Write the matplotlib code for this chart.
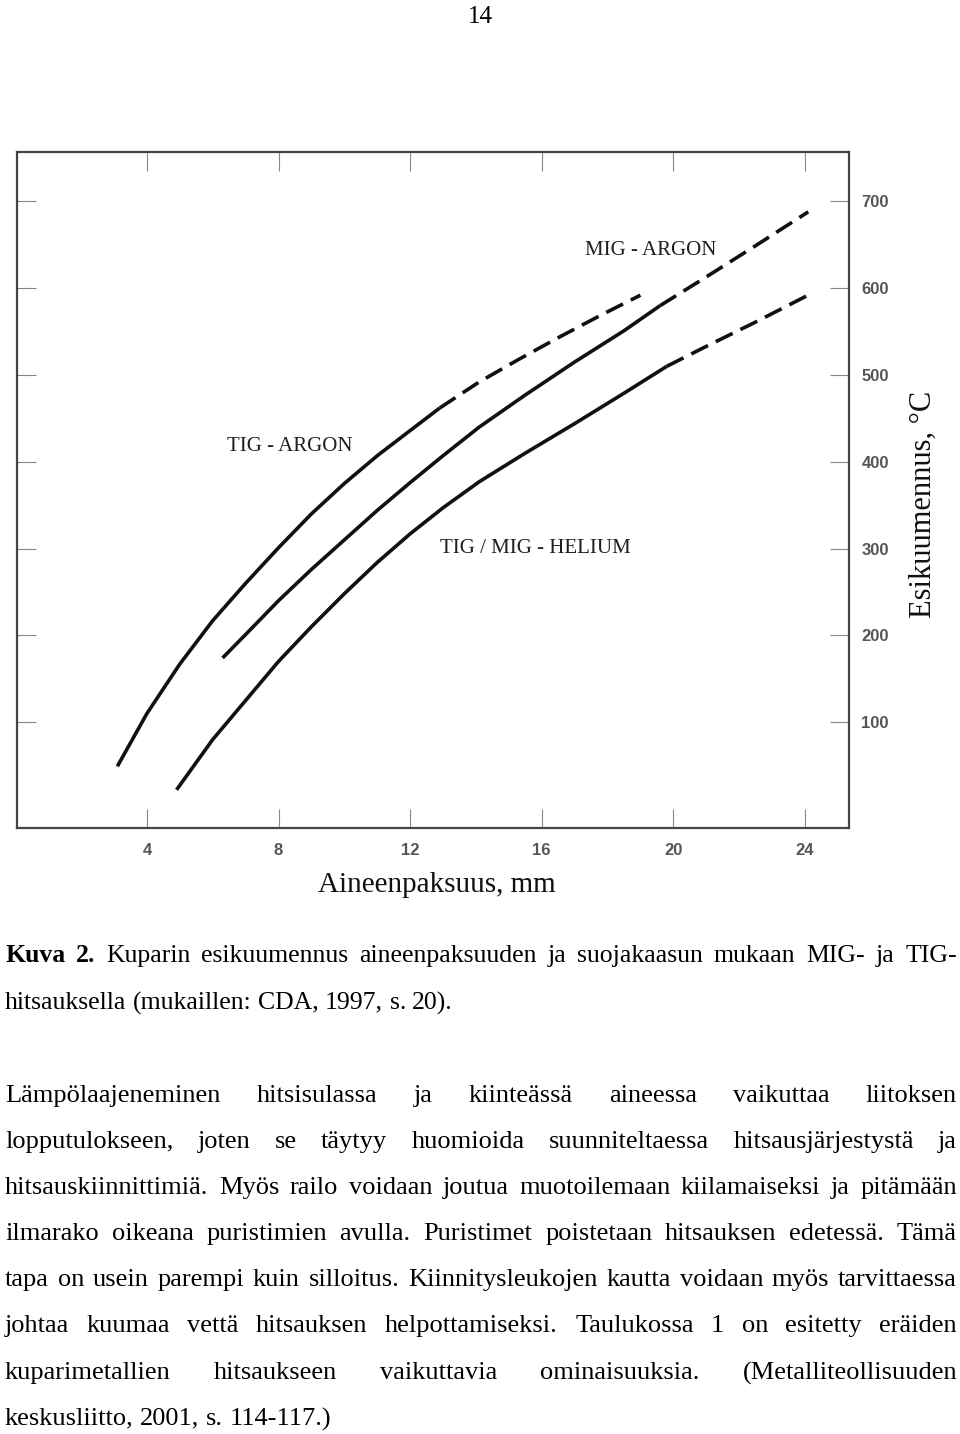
import math

import numpy as np
import matplotlib
matplotlib.use('Agg')
import matplotlib.pyplot as plt

# curves: thickness (mm) vs. preheat temperature (°C)
tig_ar_x = [3.1, 4.0, 5.0, 6.0, 7.0, 8.0, 9.0, 10.0, 11.0, 12.0, 12.9, 14.1, 15.3, 16.5, 17.8, 19.0]
tig_ar_y = [49, 110, 167, 217, 260, 301, 340, 375, 407, 436, 462, 492, 518, 543, 569, 592]
tig_ar_dash = 12.9

mig_ar_x = [6.3, 7.0, 8.0, 9.0, 10.0, 11.0, 12.0, 13.0, 14.1, 15.5, 17.0, 18.5, 19.6, 21.0, 22.5, 24.1]
mig_ar_y = [174, 201, 240, 276, 310, 344, 376, 407, 440, 477, 515, 551, 580, 613, 649, 688]
mig_ar_dash = 19.6

he_x = [4.9, 6.0, 7.0, 8.0, 9.0, 10.0, 11.0, 12.0, 13.0, 14.1, 15.5, 17.0, 18.5, 19.8, 21.0, 22.5, 24.2]
he_y = [22, 80, 125, 170, 210, 248, 284, 317, 347, 377, 410, 444, 479, 510, 533, 561, 594]
he_dash = 19.8

x_ticks = [4, 8, 12, 16, 20, 24]
y_ticks = [100, 200, 300, 400, 500, 600, 700]

caption_bold = "Kuva 2."
caption = [
    "Kuparin esikuumennus aineenpaksuuden ja suojakaasun mukaan MIG- ja TIG-",
    "hitsauksella (mukaillen: CDA, 1997, s. 20).",
]
body = [
    "Lämpölaajeneminen hitsisulassa ja kiinteässä aineessa vaikuttaa liitoksen",
    "lopputulokseen, joten se täytyy huomioida suunniteltaessa hitsausjärjestystä ja",
    "hitsauskiinnittimiä. Myös railo voidaan joutua muotoilemaan kiilamaiseksi ja pitämään",
    "ilmarako oikeana puristimien avulla. Puristimet poistetaan hitsauksen edetessä. Tämä",
    "tapa on usein parempi kuin silloitus. Kiinnitysleukojen kautta voidaan myös tarvittaessa",
    "johtaa kuumaa vettä hitsauksen helpottamiseksi. Taulukossa 1 on esitetty eräiden",
    "kuparimetallien hitsaukseen vaikuttavia ominaisuuksia. (Metalliteollisuuden",
    "keskusliitto, 2001, s. 114-117.)",
]

W, H = 960, 1434
fig = plt.figure(figsize=(W / 100, H / 100), dpi=100)
fig.patch.set_facecolor('white')
ax = fig.add_axes([17 / W, 1 - 828 / H, 832 / W, 676 / H])


def draw_curve(xs, ys, dash_from):
    xs = np.array(xs)
    ys = np.array(ys)
    s = xs <= dash_from
    d = xs >= dash_from
    ax.plot(xs[s], ys[s], color='#111111', lw=2.6, solid_capstyle='butt')
    ax.plot(xs[d], ys[d], color='#111111', lw=2.6, linestyle=(0, (5.2, 2.4)))


draw_curve(tig_ar_x, tig_ar_y, tig_ar_dash)
draw_curve(mig_ar_x, mig_ar_y, mig_ar_dash)
draw_curve(he_x, he_y, he_dash)

ax.set_xlim(0.05, 25.34)
ax.set_ylim(-22, 757)
ax.set_xticks(x_ticks)
ax.set_yticks(y_ticks)
ax.tick_params(direction='in', length=14, width=0.8, color='#888888',
               top=True, right=True, labelleft=False, labelright=True,
               labelcolor='#555555')
ax.tick_params(axis='x', pad=11)
ax.tick_params(axis='y', pad=9)
for lab in ax.get_xticklabels() + ax.get_yticklabels():
    lab.set_family('Liberation Sans')
    lab.set_fontweight('bold')
    lab.set_fontsize(12)
for sp in ax.spines.values():
    sp.set_linewidth(1.6)
    sp.set_color('#444444')

lab_kw = dict(family='Liberation Serif', fontsize=15, color='#1e1e1e',
              ha='center', va='center')
ax.text(8.35, 418, 'TIG - ARGON', **lab_kw)
ax.text(19.3, 644, 'MIG - ARGON', **lab_kw)
ax.text(15.8, 300, 'TIG / MIG - HELIUM', **lab_kw)

fig.text(437 / W, 1 - 885 / H, 'Aineenpaksuus, mm', family='Liberation Serif',
         fontsize=21, color='#111111', ha='center', va='center')
fig.text(923 / W, 1 - 504 / H, 'Esikuumennus, °C', family='Liberation Serif',
         fontsize=22, color='#111111', ha='center', va='center', rotation=90)

fig.text(480 / W, 1 - 23 / H, '14', family='Liberation Serif', fontsize=18,
         ha='center', va='baseline')

# ---- justified page text, one text per word
renderer = fig.canvas.get_renderer()
X0, X1 = 5, 957


def put_line(words, y, justify=True, size=19):
    objs = [fig.text(0, 0, w, family='Liberation Serif', fontsize=size,
                     fontweight=wt, ha='left', va='baseline', color='#000000')
            for w, wt in words]
    widths = [o.get_window_extent(renderer).width for o in objs]
    if justify and len(objs) > 1:
        gap = (X1 - X0 - sum(widths)) / (len(objs) - 1)
    else:
        gap = 0.25 * size * 100 / 72
    target = round(y)
    x = X0
    for o, w in zip(objs, widths):
        # Agg snaps each text bitmap to whole pixels; shift so every word
        # of the line ends up on the same baseline row
        _, h, d = renderer.get_text_width_height_descent(
            o.get_text(), o.get_fontproperties(), ismath=False)
        y_in = target - math.floor(h - d) + math.floor(h) - d
        o.set_position((x / W, 1 - y_in / H))
        x += w + gap


cap1 = [(w, 'bold') for w in caption_bold.split()] + \
    [(w, 'normal') for w in caption[0].split()]
put_line(cap1, 962, size=18.5)
put_line([(w, 'normal') for w in caption[1].split()], 1009, justify=False,
         size=18.5)

y0 = 1101.5
for i, line in enumerate(body):
    put_line([(w, 'normal') for w in line.split()], y0 + i * 46.2,
             justify=(i < len(body) - 1))

fig.savefig('out.png', dpi=100)
